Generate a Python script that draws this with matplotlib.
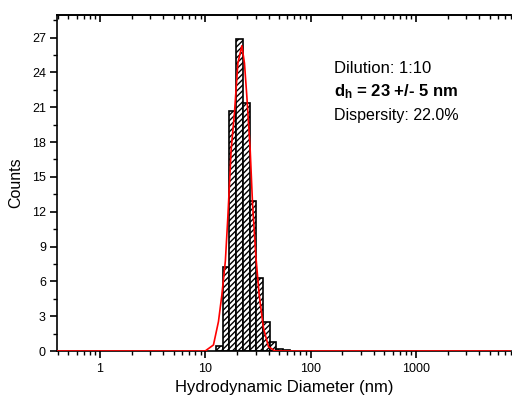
import matplotlib
matplotlib.use('Agg')
import matplotlib.pyplot as plt
import numpy as np
from matplotlib.ticker import FixedLocator, MultipleLocator, LogLocator, NullFormatter

plt.rcParams['font.family'] = ['Liberation Sans', 'DejaVu Sans']
plt.rcParams['mathtext.fontset'] = 'custom'
plt.rcParams['mathtext.rm'] = 'Liberation Sans'
plt.rcParams['mathtext.bf'] = 'Liberation Sans:bold'
plt.rcParams['hatch.linewidth'] = 1.0

# histogram bins (nm) and counts
bin_edges = [12.67, 14.66, 16.94, 19.6, 22.7, 26.3, 30.4, 35.2, 40.7, 47.1, 54.5, 63.0]
counts = [0.43, 7.27, 20.7, 26.9, 21.4, 12.9, 6.27, 2.53, 0.8, 0.15, 0.05]

# red fitted curve
fit_x = [0.39, 9.96, 11.94, 13.32, 14.35, 15.5, 16.37, 17.58, 18.9, 20.37, 22.23,
         23.53, 24.8, 26.66, 28.05, 30.2, 32.46, 35.67, 39.8, 46.0, 8000]
fit_y = [0, 0, 0.52, 2.53, 4.83, 7.77, 11.59, 17.34, 20.5, 24.8, 26.3,
         24.8, 21.9, 17.34, 12.74, 8.14, 4.83, 1.96, 0.37, 0, 0]

fig = plt.figure(figsize=(5.12, 4.04), dpi=100)
ax = fig.add_axes([57/512, 53/404, 454/512, 336/404])

edges = np.array(bin_edges)
ax.bar(edges[:-1], counts, width=np.diff(edges), align='edge',
       facecolor='white', edgecolor='black', linewidth=1.2, hatch='//////', zorder=2)
ax.plot(fit_x, fit_y, color='red', linewidth=1.2, zorder=3)

ax.set_xscale('log')
ax.set_xlim(0.39, 8000)
ax.set_ylim(0, 28.95)

ax.xaxis.set_major_locator(FixedLocator([1, 10, 100, 1000]))
ax.xaxis.set_minor_locator(LogLocator(base=10, subs=np.arange(2, 10)))
ax.xaxis.set_minor_formatter(NullFormatter())
ax.set_xticklabels(['1', '10', '100', '1000'])
ax.yaxis.set_major_locator(MultipleLocator(3))
ax.yaxis.set_minor_locator(MultipleLocator(1.5))

ax.tick_params(which='major', length=5, width=1.2, labelsize=9, colors='black')
ax.tick_params(which='minor', length=3, width=1.0)
ax.tick_params(axis='y', pad=3)

top = ax.secondary_xaxis('top')
top.xaxis.set_major_locator(FixedLocator([1, 10, 100, 1000]))
top.xaxis.set_minor_locator(LogLocator(base=10, subs=np.arange(2, 10)))
top.tick_params(which='both', direction='in', labeltop=False)
top.tick_params(which='major', length=5, width=1.2)
top.tick_params(which='minor', length=3, width=1.0)
top.spines['top'].set_linewidth(1.2)

ax.spines['right'].set_visible(False)
for s in ['left', 'bottom', 'top']:
    ax.spines[s].set_linewidth(1.2)

ax.set_xlabel('Hydrodynamic Diameter (nm)', fontsize=12, labelpad=4)
ax.set_ylabel('Counts', fontsize=11.5, labelpad=6)

ax.text(0.61, 0.842, 'Dilution: 1:10', transform=ax.transAxes, fontsize=12, va='center')
ax.text(0.61, 0.771, r'$\mathbf{d_h}$ = 23 +/- 5 nm', transform=ax.transAxes,
        fontsize=12, fontweight='bold', va='center')
ax.text(0.61, 0.702, 'Dispersity: 22.0%', transform=ax.transAxes, fontsize=11.5, va='center')

fig.savefig('out.png', dpi=100)
